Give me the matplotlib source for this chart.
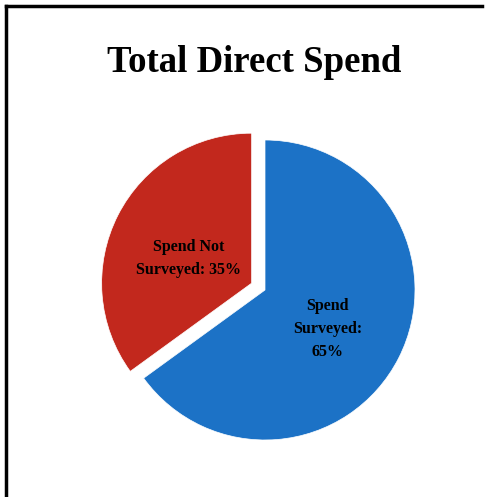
import matplotlib
matplotlib.use("Agg")
import matplotlib.pyplot as plt
from matplotlib.lines import Line2D
from matplotlib.transforms import offset_copy

labels = ["Spend\nSurveyed:\n65%", "Spend Not\nSurveyed: 35%"]
shares = [65, 35]
colors = ["#1c72c6", "#c2281d"]
explode = [0, 0.1]

W, H = 492, 497
fig = plt.figure(figsize=(W / 100, H / 100), dpi=100)
fig.patch.set_facecolor("white")

# black frame edges at top and left like the source screenshot
fig.add_artist(Line2D([6 / W, 482 / W], [1 - 6 / H, 1 - 6 / H], color="black", lw=2.5,
                      transform=fig.transFigure))
fig.add_artist(Line2D([6 / W, 6 / W], [0, 1 - 6 / H], color="black", lw=2.5,
                      transform=fig.transFigure))

fig.text(254 / W, 1 - 63 / H, "Total Direct Spend", ha="center", va="center",
         family="Liberation Serif", fontweight="bold", fontsize=26.5)

cx, cy, rpx = 265, 290, 150
span = 2.4 * rpx
ax = fig.add_axes([(cx - span / 2) / W, 1 - (cy + span / 2) / H, span / W, span / H])
wedges, texts = ax.pie(shares, labels=labels, colors=colors, explode=explode,
                       startangle=90, counterclock=False, labeldistance=0.47,
                       wedgeprops=dict(edgecolor="white", linewidth=0.5),
                       textprops=dict(family="Liberation Serif", fontweight="bold",
                                      fontsize=11.5, color="black", ha="center",
                                      va="center", linespacing=1.6))
# nudge labels down a little
for t in texts:
    t.set_transform(offset_copy(ax.transData, fig=fig, y=-5, units="points"))
ax.set_xlim(-1.2, 1.2)
ax.set_ylim(-1.2, 1.2)
ax.set_aspect("auto")
ax.axis("off")

fig.savefig("out.png", dpi=100, facecolor="white")
